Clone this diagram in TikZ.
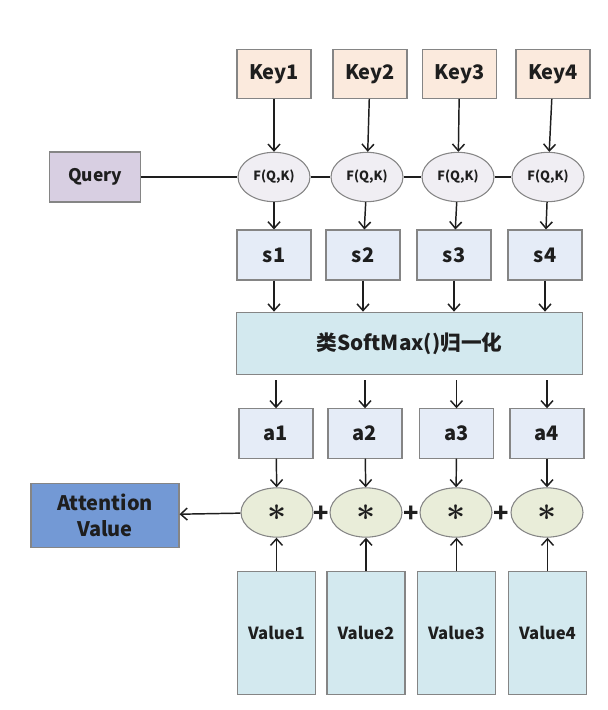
\documentclass[tikz,border=0pt]{standalone}
\usepackage{fontspec}
\setmainfont{Noto Sans CJK SC}
\usetikzlibrary{arrows.meta,shapes,positioning}
\definecolor{linecolor}{HTML}{1E1E1E}
\definecolor{bordercolor}{HTML}{858585}
\definecolor{keyfill}{HTML}{FBEADD}
\definecolor{queryfill}{HTML}{D8CFE2}
\definecolor{funcfill}{HTML}{F0EEF3}
\definecolor{scorefill}{HTML}{E5ECF7}
\definecolor{normfill}{HTML}{D3E9EF}
\definecolor{mulfill}{HTML}{E9EDD9}
\definecolor{outfill}{HTML}{7399D5}
\tikzset{
	box/.style={
		rectangle,
		draw=bordercolor,
		line width=0.8pt,
		text=linecolor,
		font=\bfseries,
		inner sep=0pt,
		text centered
	},
	keybox/.style={
		box,
		fill=keyfill,
		minimum width=55.5pt,
		minimum height=36.5pt,
		font=\bfseries\fontsize{15}{17}\selectfont
	},
	scorebox/.style={
		box,
		fill=scorefill,
		minimum width=55.5pt,
		minimum height=37.5pt,
		font=\bfseries\fontsize{15}{17}\selectfont
	},
	valuebox/.style={
		box,
		fill=normfill,
		minimum width=58.5pt,
		minimum height=92pt,
		font=\bfseries\fontsize{12.5}{14}\selectfont
	},
	func/.style={
		ellipse,
		draw=bordercolor,
		line width=0.8pt,
		fill=funcfill,
		text=linecolor,
		inner sep=0pt,
		minimum width=54pt,
		minimum height=37pt,
		font=\bfseries\fontsize{9.5}{11}\selectfont
	},
	mul/.style={
		func,
		fill=mulfill,
		minimum height=37pt,
		font=\fontsize{24}{24}\selectfont\boldmath
	},
	plus/.style={
		text=linecolor,
		inner sep=0pt,
		font=\bfseries\fontsize{19}{19}\selectfont
	},
	arrow/.style={
		draw=linecolor,
		line width=1.1pt,
		-{Straight Barb[length=5pt,width=9pt]}
	},
	link/.style={
		draw=linecolor,
		line width=1.1pt
	},
}

\begin{document}
\begin{tikzpicture}[x=0.75pt,y=-0.75pt]
	\useasboundingbox (0,0) rectangle (607,710);
	% keys
	\node[keybox] (k1) at (274,74) {Key1};
	\node[keybox] (k2) at (370,74) {Key2};
	\node[keybox] (k3) at (459.5,74) {Key3};
	\node[keybox] (k4) at (553,74) {Key4};
	% query and score functions
	\node[box,fill=queryfill,minimum width=68pt,minimum height=37.5pt,
		font=\bfseries\fontsize{13}{15}\selectfont] (q) at (95,177) {Query};
	\node[func] (f1) at (274,177) {F(Q,K)};
	\node[func] (f2) at (367,177) {F(Q,K)};
	\node[func] (f3) at (458,177) {F(Q,K)};
	\node[func] (f4) at (548,177) {F(Q,K)};
	% scores
	\node[scorebox] (s1) at (274,255) {s1};
	\node[scorebox] (s2) at (363,255) {s2};
	\node[scorebox] (s3) at (454,255) {s3};
	\node[scorebox] (s4) at (545,255) {s4};
	\node[box,fill=normfill,minimum width=259pt,minimum height=47pt,
		font=\bfseries\fontsize{15.5}{17}\selectfont] (sm) at (409.5,343.5) {类SoftMax()归一化};
	% weights
	\node[scorebox,minimum height=37pt] (a1) at (276,433.5) {a1};
	\node[scorebox,minimum height=37pt] (a2) at (365,433.5) {a2};
	\node[scorebox,minimum height=37pt] (a3) at (456.5,433.5) {a3};
	\node[scorebox,minimum height=37pt] (a4) at (547,433.5) {a4};
	\node[mul] (m1) at (277,512.5) {$\ast$};
	\node[mul] (m2) at (366,512.5) {$\ast$};
	\node[mul] (m3) at (456,512.5) {$\ast$};
	\node[mul] (m4) at (547,512.5) {$\ast$};
	\node[plus] (p1) at (321,514) {+};
	\node[plus] (p2) at (411,514) {+};
	\node[plus] (p3) at (501,514) {+};
	\node[box,fill=outfill,minimum width=111pt,minimum height=48.5pt,
		font=\bfseries\fontsize{15}{19.5}\selectfont,align=center] (att) at (105,515.5) {Attention\\Value};
	% values
	\node[valuebox] (v1) at (276.5,633) {Value1};
	\node[valuebox] (v2) at (366,633) {Value2};
	\node[valuebox] (v3) at (456.5,633) {Value3};
	\node[valuebox] (v4) at (547.5,633) {Value4};
	\path[link] (q) -- (f1) (f1) -- (f2) (f2) -- (f3) (f3) -- (f4);
	\path[arrow] (k1) -- (f1);
	\path[arrow] (k2) -- (f2);
	\path[arrow] (k3) -- (f3);
	\path[arrow] (k4) -- (f4);
	\path[arrow] (f1) -- (s1);
	\path[arrow] (f2) -- (s2);
	\path[arrow] (f3) -- (s3);
	\path[arrow] (f4) -- (s4);
	\path[arrow] (s1) -- (s1.south |- sm.north);
	\path[arrow] (s2) -- (s2.south |- sm.north);
	\path[arrow] (s3) -- (s3.south |- sm.north);
	\path[arrow] (s4) -- (s4.south |- sm.north);
	\path[arrow] (a1.north |- sm.south) ++(0,5) -- (a1);
	\path[arrow] (a2.north |- sm.south) ++(0,5) -- (a2);
	\path[arrow] (a3.north |- sm.south) ++(0,5) -- (a3);
	\path[arrow] (a4.north |- sm.south) ++(0,5) -- (a4);
	\path[arrow] (a1) -- (m1);
	\path[arrow] (a2) -- (m2);
	\path[arrow] (a3) -- (m3);
	\path[arrow] (a4) -- (m4);
	\path[arrow] (v1.north) -- (v1.north |- m1.south);
	\path[arrow] (v2.north) -- (v2.north |- m2.south);
	\path[arrow] (v3.north) -- (v3.north |- m3.south);
	\path[arrow] (v4.north) -- (v4.north |- m4.south);
	\path[arrow] (m1) -- (att);
\end{tikzpicture}
\end{document}
